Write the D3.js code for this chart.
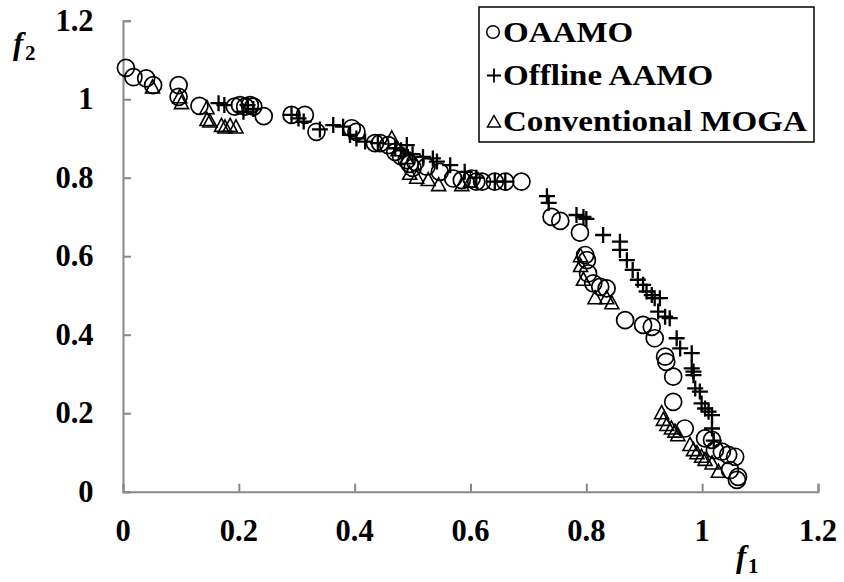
<!DOCTYPE html>
<html><head><meta charset="utf-8">
<script src="https://cdn.jsdelivr.net/npm/d3@7"></script>
<style>body{margin:0;background:#fff}svg{display:block}</style>
</head><body>
<script>
const tickValues = [0, 0.2, 0.4, 0.6, 0.8, 1.0, 1.2];
const tickLabels = ["0", "0.2", "0.4", "0.6", "0.8", "1", "1.2"];
const seriesNames = ["OAAMO", "Offline AAMO", "Conventional MOGA"];

const oaamo = [
 [0.005,1.080],[0.018,1.056],[0.040,1.053],[0.052,1.036],[0.096,1.036],[0.096,1.006],
 [0.132,0.983],[0.193,0.981],[0.202,0.985],[0.211,0.981],[0.219,0.985],[0.225,0.981],
 [0.243,0.957],[0.291,0.960],[0.314,0.960],[0.334,0.917],[0.395,0.926],[0.403,0.917],
 [0.435,0.888],[0.444,0.888],[0.458,0.883],[0.470,0.866],[0.480,0.855],[0.490,0.845],
 [0.495,0.835],[0.500,0.825],[0.505,0.840],[0.524,0.828],[0.547,0.815],[0.570,0.798],
 [0.585,0.794],[0.602,0.798],[0.610,0.790],[0.620,0.790],[0.642,0.790],[0.660,0.790],
 [0.688,0.790],[0.740,0.700],[0.755,0.690],[0.789,0.660],[0.798,0.603],[0.801,0.590],
 [0.803,0.556],[0.812,0.531],[0.824,0.522],[0.835,0.518],[0.867,0.437],[0.898,0.425],
 [0.913,0.420],[0.918,0.391],[0.936,0.344],[0.938,0.331],[0.950,0.293],[0.950,0.229],
 [0.970,0.161],[1.005,0.136],[1.017,0.132],[1.022,0.106],[1.034,0.102],[1.045,0.094],
 [1.057,0.089],[1.048,0.055],[1.062,0.038],[1.060,0.030]
];
const offline = [
 [0.165,0.990],[0.175,0.985],[0.208,0.968],[0.215,0.985],[0.225,0.975],[0.291,0.960],
 [0.303,0.951],[0.312,0.943],[0.340,0.923],[0.363,0.934],[0.380,0.930],[0.392,0.909],
 [0.403,0.900],[0.418,0.892],[0.440,0.888],[0.470,0.875],[0.480,0.870],[0.490,0.883],
 [0.500,0.860],[0.518,0.853],[0.535,0.849],[0.542,0.841],[0.565,0.832],[0.590,0.815],
 [0.610,0.800],[0.642,0.790],[0.660,0.790],[0.732,0.753],[0.735,0.736],[0.783,0.705],
 [0.795,0.700],[0.800,0.695],[0.829,0.654],[0.858,0.637],[0.858,0.616],[0.870,0.590],
 [0.880,0.565],[0.889,0.540],[0.898,0.527],[0.904,0.510],[0.913,0.501],[0.918,0.493],
 [0.927,0.493],[0.924,0.459],[0.936,0.446],[0.944,0.442],[0.956,0.391],[0.962,0.365],
 [0.982,0.353],[0.982,0.314],[0.985,0.306],[0.985,0.297],[0.988,0.263],[0.996,0.255],
 [0.999,0.225],[1.005,0.212],[1.011,0.204],[1.017,0.195],[1.017,0.161],[1.020,0.130]
];
const moga = [
 [0.051,1.030],[0.098,1.005],[0.101,0.990],[0.145,0.977],[0.145,0.947],[0.150,0.943],
 [0.170,0.932],[0.176,0.928],[0.185,0.932],[0.195,0.928],[0.464,0.900],[0.475,0.870],
 [0.490,0.850],[0.495,0.810],[0.507,0.800],[0.527,0.794],[0.545,0.781],[0.585,0.781],
 [0.600,0.790],[0.790,0.600],[0.790,0.575],[0.795,0.540],[0.815,0.493],[0.835,0.493],
 [0.844,0.480],[0.930,0.200],[0.933,0.183],[0.939,0.170],[0.947,0.161],[0.953,0.153],
 [0.958,0.144],[0.979,0.119],[0.985,0.106],[0.991,0.098],[0.999,0.089],[1.005,0.081],
 [1.017,0.072],[1.028,0.051]
];

const W = 844, H = 582;
const svg = d3.select("body").append("svg").attr("width", W).attr("height", H);
const x = d3.scaleLinear().domain([0, 1.2]).range([123, 818]);
const y = d3.scaleLinear().domain([0, 1.2]).range([491.7, 20.7]);
const FONT = "Liberation Serif";
const AX = "#898989";

// axes
const gx = svg.append("g").attr("transform", `translate(0,${y(0)})`)
  .call(d3.axisBottom(x).tickValues(tickValues).tickSize(-8).tickFormat(""));
const gy = svg.append("g").attr("transform", `translate(${x(0)},0)`)
  .call(d3.axisLeft(y).tickValues(tickValues).tickSize(-8).tickFormat(""));
[gx, gy].forEach(g => {
  g.selectAll("path.domain").attr("stroke", AX).attr("stroke-width", 2);
  g.selectAll(".tick line").attr("stroke", AX).attr("stroke-width", 2);
});

// tick labels
const FS = 30.5;
tickValues.forEach((v, i) => {
  svg.append("text").attr("x", x(v)).attr("y", 540.5).attr("text-anchor", "middle")
    .attr("font-family", FONT).attr("font-weight", "bold").attr("font-size", FS)
    .text(tickLabels[i]);
  svg.append("text").attr("x", 93.5).attr("y", y(v) + 10).attr("text-anchor", "end")
    .attr("font-family", FONT).attr("font-weight", "bold").attr("font-size", FS)
    .text(tickLabels[i]);
});

// axis titles
function axTitle(tx, ty, sub) {
  const g = svg.append("g").attr("transform", `translate(${tx},${ty})`);
  g.append("text").attr("font-family", FONT).attr("font-style", "italic").attr("font-weight", "bold")
    .attr("font-size", 31).text("f");
  g.append("text").attr("x", 12).attr("y", 6).attr("font-family", FONT).attr("font-weight", "bold")
    .attr("font-size", 21).text(sub);
}
axTitle(13, 54, "2");
axTitle(736, 567, "1");

// markers
const plusPath = "M-8,0H8M0,-8V8";
const triPath = "M0,-7.5L7,5.5L-7,5.5Z";
svg.append("g").selectAll("circle").data(oaamo).join("circle")
  .attr("cx", d => x(d[0])).attr("cy", d => y(d[1])).attr("r", 8.5)
  .attr("fill", "none").attr("stroke", "#000").attr("stroke-width", 1.7);
svg.append("g").selectAll("path").data(offline).join("path")
  .attr("transform", d => `translate(${x(d[0])},${y(d[1])})`).attr("d", plusPath)
  .attr("fill", "none").attr("stroke", "#000").attr("stroke-width", 2.3);
svg.append("g").selectAll("path").data(moga).join("path")
  .attr("transform", d => `translate(${x(d[0])},${y(d[1])})`).attr("d", triPath)
  .attr("fill", "none").attr("stroke", "#000").attr("stroke-width", 1.6);

// legend
const lg = svg.append("g");
lg.append("rect").attr("x", 479).attr("y", 7).attr("width", 335).attr("height", 135)
  .attr("fill", "#fff").attr("stroke", "#000").attr("stroke-width", 1.5);
const rowY = [41.5, 85, 131];
const symbols = [
  g => g.append("circle").attr("r", 6.3).attr("fill", "none").attr("stroke", "#000").attr("stroke-width", 1.5),
  g => g.append("path").attr("d", "M-7,0H7M0,-7V7").attr("stroke", "#000").attr("stroke-width", 1.8),
  g => g.append("path").attr("d", "M0,-6L6.5,5.5L-6.5,5.5Z").attr("fill", "none").attr("stroke", "#000").attr("stroke-width", 1.5)
];
seriesNames.forEach((n, i) => {
  const sg = lg.append("g").attr("transform", `translate(${[493, 494, 494][i]},${rowY[i] - 9.5})`);
  symbols[i](sg);
  lg.append("g").attr("transform", `translate(503,${rowY[i]}) scale(1.14,1)`)
    .append("text").attr("font-family", FONT).attr("font-weight", "bold").attr("font-size", 29)
    .text(n);
});
</script>
</body></html>
